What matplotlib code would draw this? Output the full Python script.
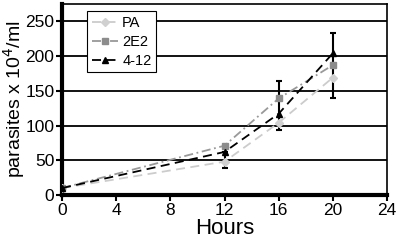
import matplotlib
matplotlib.use("Agg")
import matplotlib.pyplot as plt

plt.rcParams['font.family'] = ['Liberation Sans', 'DejaVu Sans']

hours = [0, 12, 16, 20]
pa = [10, 48, 104, 169]
e2e2 = [10, 71, 139, 187]
t412 = [10, 62, 117, 204]
err_low = [10, 39, 94, 140]
err_high = [10, 62, 164, 233]

fig = plt.figure(figsize=(4.0, 2.48), dpi=100)
ax = fig.add_axes([0.155, 0.2137, 0.8125, 0.7703])

for y in [50, 100, 150, 200, 250]:
    ax.axhline(y, color='black', lw=1.3, zorder=1)

ax.errorbar(hours, t412,
            yerr=[[t - l for t, l in zip(t412, err_low)], [h - t for t, h in zip(t412, err_high)]],
            fmt='none', ecolor='black', elinewidth=1.5, capsize=2.5, capthick=1.5, zorder=2)

ax.plot(hours, pa, color='#cccccc', ls=(0, (5, 3)), lw=1.3, marker='D', ms=4,
        mfc='#d0d0d0', mec='#d0d0d0', label='PA', zorder=3)
ax.plot(hours, e2e2, color='#999999', ls=(0, (5, 2, 1, 2)), lw=1.3, marker='s', ms=5,
        mfc='#8c8c8c', mec='#8c8c8c', label='2E2', zorder=3)
ax.plot(hours, t412, color='black', ls=(0, (5, 3)), lw=1.3, marker='^', ms=5,
        mfc='black', mec='black', label='4-12', zorder=4)

ax.set_xlim(0, 24)
ax.set_ylim(0, 275)
ax.set_xticks([0, 4, 8, 12, 16, 20, 24])
ax.set_yticks([0, 50, 100, 150, 200, 250])
ax.tick_params(axis='both', labelsize=12.5, length=4, width=1.5, direction='out', pad=1.5)

for s in ['left', 'bottom']:
    ax.spines[s].set_linewidth(3)
for s in ['top', 'right']:
    ax.spines[s].set_linewidth(1.2)

ax.set_xlabel('Hours', fontsize=16, labelpad=0)
fig.text(0.003, 0.6, 'parasites x 10$^4$/ml', fontsize=14, rotation=90,
         ha='left', va='center')

leg = ax.legend(loc='upper left', bbox_to_anchor=(0.055, 1.0), fontsize=10.5,
                frameon=True, fancybox=False, edgecolor='black', framealpha=1,
                handlelength=1.8, borderpad=0.3, labelspacing=0.35, handletextpad=0.3)
leg.get_frame().set_linewidth(0.8)

fig.savefig('out.png', dpi=100)
